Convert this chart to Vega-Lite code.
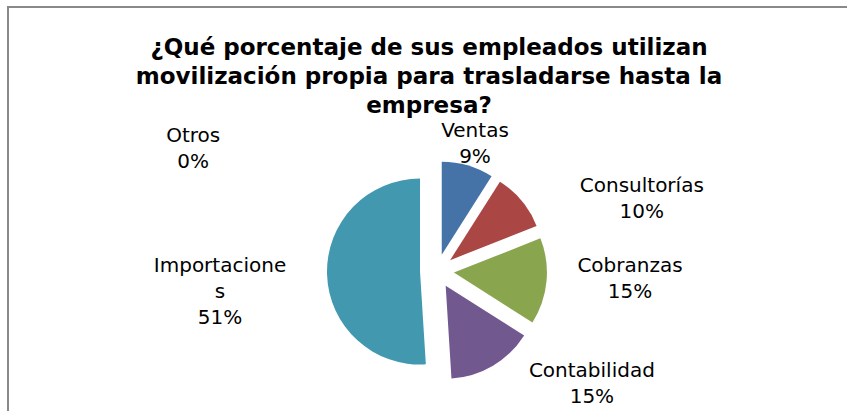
{
  "$schema": "https://vega.github.io/schema/vega-lite/v6.json",
  "width": 842,
  "height": 406,
  "autosize": {"type": "none"},
  "padding": {"left": 8, "top": 7, "right": 0, "bottom": 0},
  "background": "white",
  "config": {
    "view": {"stroke": null},
    "font": "DejaVu Sans"
  },
  "title": {
    "text": ["¿Qué porcentaje de sus empleados utilizan", "movilización propia para trasladarse hasta la", "empresa?"],
    "font": "DejaVu Sans",
    "fontSize": 23,
    "fontWeight": "bold",
    "color": "#000000",
    "anchor": "middle",
    "frame": "group",
    "baseline": "top",
    "offset": -112,
    "lineHeight": 29
  },
  "data": {
    "values": [
      {"orden": 1, "categoria": "Ventas", "porcentaje": 9, "etiqueta": "Ventas\n9%"},
      {"orden": 2, "categoria": "Consultorías", "porcentaje": 10, "etiqueta": "Consultorías\n10%"},
      {"orden": 3, "categoria": "Cobranzas", "porcentaje": 15, "etiqueta": "Cobranzas\n15%"},
      {"orden": 4, "categoria": "Contabilidad", "porcentaje": 15, "etiqueta": "Contabilidad\n15%"},
      {"orden": 5, "categoria": "Importaciones", "porcentaje": 51, "etiqueta": "Importacione\ns\n51%"},
      {"orden": 6, "categoria": "Otros", "porcentaje": 0, "etiqueta": "Otros\n0%"}
    ]
  },
  "layer": [
    {
      "mark": {"type": "rect", "fill": null, "stroke": "#898989", "strokeWidth": 2},
      "encoding": {
        "x": {"value": 0},
        "x2": {"value": "width"},
        "y": {"value": 0},
        "y2": {"value": "height"}
      }
    },
    {
      "mark": {
        "type": "arc",
        "radius": 93,
        "xOffset": {"expr": "8 + 17 * sin(PI * (datum.porcentaje_start + datum.porcentaje_end) / 100)"},
        "yOffset": {"expr": "61 - 17 * cos(PI * (datum.porcentaje_start + datum.porcentaje_end) / 100)"}
      },
      "encoding": {
        "theta": {"field": "porcentaje", "type": "quantitative", "stack": true},
        "order": {"field": "orden", "type": "quantitative"},
        "color": {
          "field": "categoria",
          "type": "nominal",
          "scale": {
            "domain": ["Ventas", "Consultorías", "Cobranzas", "Contabilidad", "Importaciones", "Otros"],
            "range": ["#4572A7", "#AA4643", "#89A54E", "#71588F", "#4198AF", "#DB843D"]
          },
          "legend": null
        }
      }
    },
    {
      "mark": {
        "type": "text",
        "font": "DejaVu Sans",
        "fontSize": 20,
        "color": "#000000",
        "lineBreak": "\n",
        "lineHeight": 26,
        "xOffset": 1,
        "yOffset": 58,
        "radius": {"expr": "datum.categoria === 'Ventas' ? 144 : datum.categoria === 'Consultorías' ? 227 : datum.categoria === 'Cobranzas' ? 200 : datum.categoria === 'Contabilidad' ? 192 : datum.categoria === 'Importaciones' ? 210 : 271"},
        "thetaOffset": {"expr": "datum.categoria === 'Ventas' ? 0.035 : datum.categoria === 'Consultorías' ? 0.323 : datum.categoria === 'Cobranzas' ? -0.105 : datum.categoria === 'Contabilidad' ? -0.469 : datum.categoria === 'Importaciones' ? 0.04 : -1.063"}
      },
      "encoding": {
        "theta": {"field": "porcentaje", "type": "quantitative", "stack": true},
        "order": {"field": "orden", "type": "quantitative"},
        "text": {"field": "etiqueta", "type": "nominal"}
      }
    }
  ]
}
